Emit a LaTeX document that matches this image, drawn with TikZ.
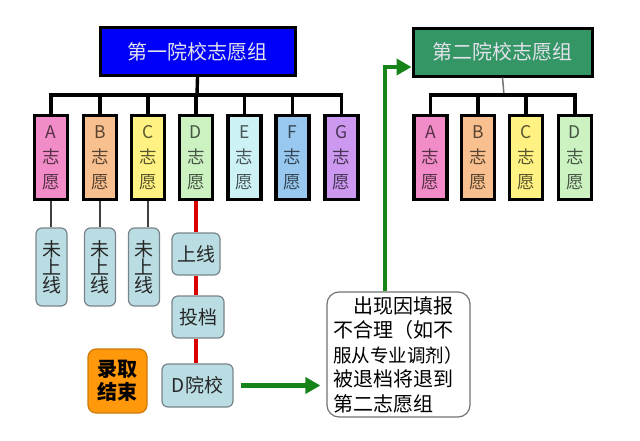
\documentclass[tikz,border=0pt]{standalone}
\usepackage{fontspec}
\setmainfont{Noto Sans CJK SC}
\usepackage{xcolor}
\usetikzlibrary{arrows.meta,positioning,calc}

\definecolor{grpblue}{RGB}{0,0,250}
\definecolor{grpgreen}{RGB}{52,150,100}
\definecolor{volA}{RGB}{242,140,200}
\definecolor{volB}{RGB}{248,192,142}
\definecolor{volC}{RGB}{255,242,130}
\definecolor{volD}{RGB}{204,242,194}
\definecolor{volE}{RGB}{204,242,246}
\definecolor{volF}{RGB}{152,200,240}
\definecolor{volG}{RGB}{204,152,240}
\definecolor{stepfill}{RGB}{186,221,228}
\definecolor{stepline}{RGB}{120,132,138}
\definecolor{endorange}{RGB}{255,152,10}
\definecolor{flowgreen}{RGB}{22,132,24}

\begin{document}
\begin{tikzpicture}[
  x=1pt, y=-1pt,
  group/.style={
    rectangle,
    draw=black,
    line width=3pt,
    minimum width=195pt,
    minimum height=48pt,
    inner sep=0pt,
    text={rgb,255:red,226;green,226;blue,236},
    font=\fontsize{20}{22}\selectfont
  },
  vol/.style={
    rectangle,
    draw=black,
    line width=3.6pt,
    minimum width=33pt,
    minimum height=84pt,
    inner sep=0pt,
    align=center,
    fill=#1,
    text=#1!35!black,
    font=\fontsize{17.5}{25}\selectfont
  },
  state/.style={
    rectangle,
    rounded corners=6pt,
    draw=stepline,
    line width=1.2pt,
    fill=stepfill,
    inner sep=0pt,
    align=center,
    text=black!85,
    font=\fontsize{19}{18}\selectfont
  },
  tree/.style={line width=3.4pt, black},
  leg/.style={line width=2.3pt, black!75},
  pass/.style={line width=3.6pt, red!85!black},
  flow/.style={line width=4.6pt, flowgreen, -{Triangle[length=15pt,width=16pt]}}
]
\useasboundingbox (0,0) rectangle (640,440);

% first group
\node[group, fill=grpblue] (grp1) at (197.5,51.5) {第一院校志愿组};
\node[vol=volA] (volA) at (51,157.5) {A\\志\\愿};
\node[vol=volB] (volB) at (100,157.5) {B\\志\\愿};
\node[vol=volC] (volC) at (148,157.5) {C\\志\\愿};
\node[vol=volD] (volD) at (196,157.5) {D\\志\\愿};
\node[vol=volE] (volE) at (244.5,157.5) {E\\志\\愿};
\node[vol=volF] (volF) at (292.5,157.5) {F\\志\\愿};
\node[vol=volG] (volG) at (341.5,157.5) {G\\志\\愿};
\coordinate (bus1) at (197,95);

% second group
\node[group, fill=grpgreen, minimum width=179pt] (grp2) at (502.5,52) {第二院校志愿组};
\node[vol=volA] (volA2) at (430.5,157.5) {A\\志\\愿};
\node[vol=volB] (volB2) at (478,157.5) {B\\志\\愿};
\node[vol=volC] (volC2) at (526,157.5) {C\\志\\愿};
\node[vol=volD] (volD2) at (575,157.5) {D\\志\\愿};
\coordinate (bus2) at (504,95);

% outcomes
\node[state, minimum width=31pt, minimum height=78pt] (noA) at (51.5,267) {未\\上\\线};
\node[state, minimum width=31pt, minimum height=78pt] (noB) at (100,267) {未\\上\\线};
\node[state, minimum width=31pt, minimum height=78pt] (noC) at (144,267) {未\\上\\线};
\node[state, minimum width=48pt, minimum height=42pt] (online) at (196,254) {上线};
\node[state, minimum width=52pt, minimum height=42pt] (toudang) at (198,317) {投档};
\node[state, minimum width=71pt, minimum height=43pt] (schoolD) at (197.5,385.5) {D院校};
\node[state, rounded corners=8pt, draw=endorange!80!black, fill=endorange, text=black,
      minimum width=59pt, minimum height=64pt, font=\bfseries\fontsize{20}{23}\selectfont] (done) at (117.5,381) {录取\\结束};
\node[state, rounded corners=12pt, fill=white, draw=black!55, align=left, text=black,
      text width=131pt, inner xsep=6pt, minimum height=125pt,
      font=\fontsize{20}{24.5}\selectfont] (back) at (398.5,354.5)
      {\hspace*{1em}出现因填报\\不合理（如不\\{\fontsize{18.5}{24.5}\selectfont 服从专业调剂）}\\被退档将退到\\第二志愿组};
\coordinate (turn) at (385,67);

\draw[tree] (grp1.south) -- (bus1);
\draw[tree] (volA.north) |- (bus1) -| (volG.north);
\draw[tree] (volB.north) -- (volB.north |- bus1);
\draw[tree] (volC.north) -- (volC.north |- bus1);
\draw[tree] (volD.north) -- (volD.north |- bus1);
\draw[tree] (volE.north) -- (volE.north |- bus1);
\draw[tree] (volF.north) -- (volF.north |- bus1);

\draw[line width=1.5pt, black!55] (grp2.south) -- (bus2);
\draw[tree] (volA2.north) |- (bus2) -| (volD2.north);
\draw[tree] (volB2.north) -- (volB2.north |- bus2);
\draw[tree] (volC2.north) -- (volC2.north |- bus2);

\draw[leg] (volA.south) -- (volA.south |- noA.north);
\draw[leg] (volB.south) -- (volB.south |- noB.north);
\draw[leg] (volC.south) -- (volC.south |- noC.north);
\draw[pass] (volD.south) -- (volD.south |- online.north);
\draw[pass] (volD.south |- online.south) -- (volD.south |- toudang.north);
\draw[pass] (volD.south |- toudang.south) -- (volD.south |- schoolD.north);

\draw[flow, shorten <=7pt, shorten >=6pt] (schoolD.east) -- (schoolD.east -| back.west);
\draw[flow] (back.north -| turn) -- (turn) -- (turn -| grp2.west);

\end{tikzpicture}
\end{document}
